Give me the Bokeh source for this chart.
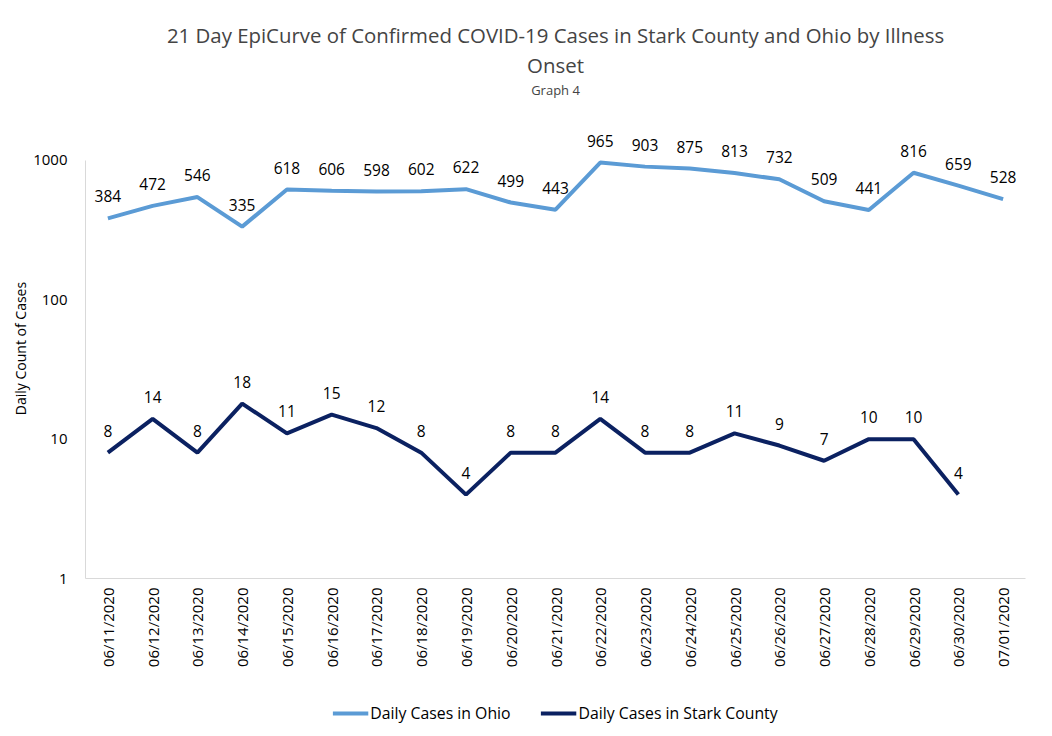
import math
from bokeh.plotting import figure
from bokeh.layouts import column
from bokeh.models import ColumnDataSource, Legend, LegendItem, Title, FixedTicker, FactorRange
from bokeh.core.properties import value
from bokeh.embed import file_html
from bokeh.resources import INLINE

dates = ["06/11/2020", "06/12/2020", "06/13/2020", "06/14/2020", "06/15/2020", "06/16/2020",
         "06/17/2020", "06/18/2020", "06/19/2020", "06/20/2020", "06/21/2020", "06/22/2020",
         "06/23/2020", "06/24/2020", "06/25/2020", "06/26/2020", "06/27/2020", "06/28/2020",
         "06/29/2020", "06/30/2020", "07/01/2020"]
ohio = [384, 472, 546, 335, 618, 606, 598, 602, 622, 499, 443, 965, 903, 875, 813, 732, 509, 441, 816, 659, 528]
stark = [8, 14, 8, 18, 11, 15, 12, 8, 4, 8, 8, 14, 8, 8, 11, 9, 7, 10, 10, 4]
y_ticks = [1, 10, 100, 1000]
series_names = ["Daily Cases in Ohio", "Daily Cases in Stark County"]

FONT = "Open Sans"
OHIO_C = "#5B9BD5"
STARK_C = "#0B2161"

p = figure(frame_width=940, frame_height=460, x_range=FactorRange(factors=dates, range_padding=0),
           y_axis_type="log", y_range=(1, 2000), output_backend="svg", toolbar_location=None,
           min_border_left=85, min_border_right=27, min_border_top=118, min_border_bottom=112)
p.outline_line_color = None
p.xgrid.grid_line_color = None
p.ygrid.grid_line_color = None

src_o = ColumnDataSource(dict(x=dates, y=ohio, t=[str(v) for v in ohio]))
src_s = ColumnDataSource(dict(x=dates[:len(stark)], y=stark, t=[str(v) for v in stark]))

p.line("x", "y", source=src_o, line_color=OHIO_C, line_width=4)
p.line("x", "y", source=src_s, line_color=STARK_C, line_width=4)
p.text("x", "y", text="t", source=src_o, text_align="center", text_baseline="middle",
       y_offset=-22, text_font=value(FONT), text_font_size="15.5px", text_color="#000000")
p.text("x", "y", text="t", source=src_s, text_align="center", text_baseline="middle",
       y_offset=-22, text_font=value(FONT), text_font_size="15.5px", text_color="#000000")

p.yaxis.ticker = FixedTicker(ticks=y_ticks)
p.yaxis.bounds = (1, 1000)
p.yaxis.major_label_overrides = {1: "1", 10: "10", 100: "100", 1000: "1000"}
for ax in (p.xaxis, p.yaxis):
    ax.axis_line_color = "#d9d9d9"
    ax.axis_line_width = 1
    ax.major_tick_line_color = None
    ax.minor_tick_line_color = None
    ax.major_tick_out = 0
    ax.major_tick_in = 0
    ax.major_label_text_font = FONT
    ax.major_label_text_font_size = "15px"
    ax.major_label_text_color = "#000000"
p.yaxis.major_label_standoff = 18
p.xaxis.major_label_orientation = math.pi / 2
p.xaxis.major_label_standoff = 9
p.yaxis.axis_label = "Daily Count of Cases"
p.yaxis.axis_label_text_font = FONT
p.yaxis.axis_label_text_font_size = "14px"
p.yaxis.axis_label_text_font_style = "normal"
p.yaxis.axis_label_text_color = "#000000"
p.yaxis.axis_label_standoff = 0

p.add_layout(Title(text=" ", align="center", text_font_size="1px", standoff=17), "above")
p.add_layout(Title(text="Graph 4", align="center", text_font=FONT, text_font_size="13px",
                   text_font_style="normal", standoff=0), "above")
p.add_layout(Title(text="Onset", align="center", text_font=FONT, text_font_size="20.4px",
                   text_font_style="normal", standoff=0), "above")
p.add_layout(Title(text="21 Day EpiCurve of Confirmed COVID-19 Cases in Stark County and Ohio by Illness",
                   align="center", text_font=FONT, text_font_size="20.4px",
                   text_font_style="normal", standoff=0), "above")

# legend strip below the chart (series drawn outside its visible range, so only the legend shows)
p2 = figure(width=1052, height=46, x_range=FactorRange(factors=dates, range_padding=0),
            y_range=(-20, -10), output_backend="svg", toolbar_location=None,
            min_border=0, min_border_left=22)
p2.axis.visible = False
p2.grid.grid_line_color = None
p2.outline_line_color = None
l_o = p2.line("x", "y", source=src_o, line_color=OHIO_C, line_width=4)
l_s = p2.line("x", "y", source=src_s, line_color=STARK_C, line_width=4)
legend = Legend(items=[LegendItem(label=series_names[0], renderers=[l_o]),
                       LegendItem(label=series_names[1], renderers=[l_s])],
                orientation="horizontal", location="center", border_line_color=None,
                background_fill_alpha=0,
                label_text_font=FONT, label_text_font_size="15.8px", label_text_color="#000000",
                glyph_width=36, label_standoff=2, spacing=30, margin=0, padding=0)
p2.add_layout(legend, "center")

open("out.html", "w").write(file_html(column(p, p2, spacing=0), INLINE))
